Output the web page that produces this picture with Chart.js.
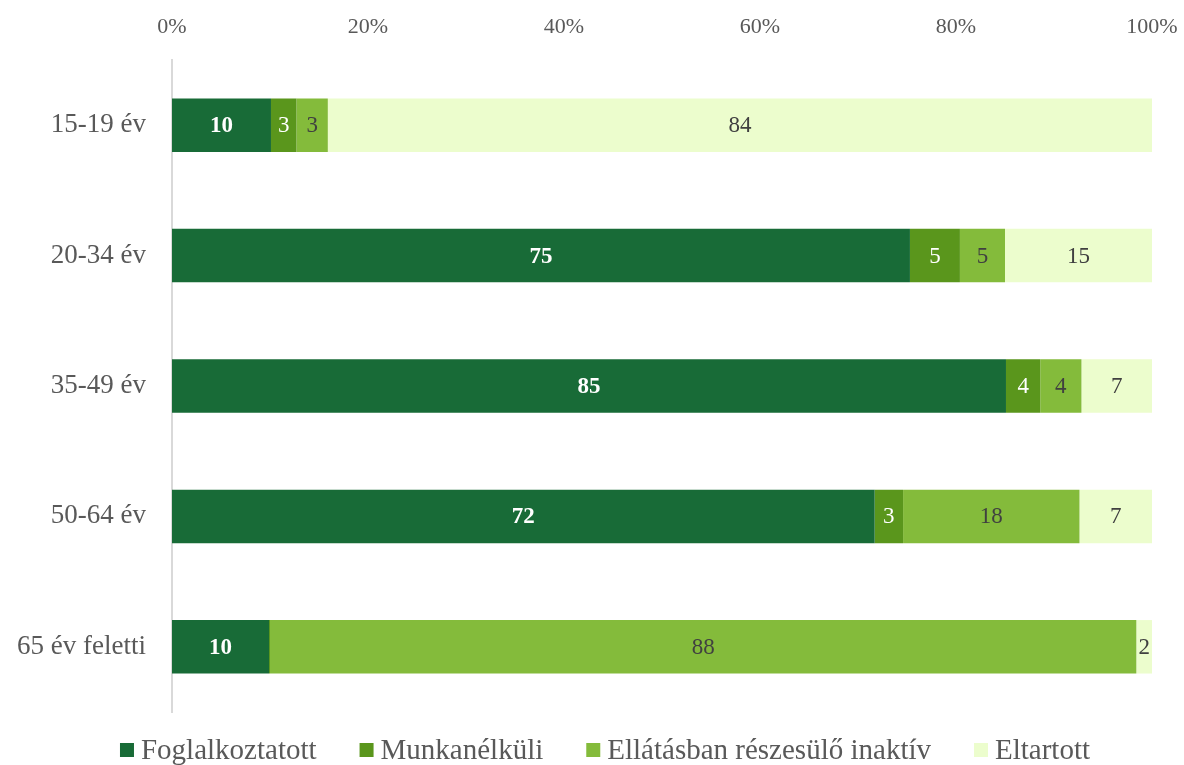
<!DOCTYPE html>
<html>
<head>
<meta charset="utf-8">
<script src="https://cdn.jsdelivr.net/npm/chart.js@4"></script>
<style>
  html, body { margin: 0; padding: 0; background: #fff; }
  #wrap { width: 1184px; height: 765px; }
</style>
</head>
<body>
<div id="wrap"><canvas id="chart" width="1184" height="765"></canvas></div>
<script>
// ── DATI ─────────────────────────────────────
const ageGroups = ['15-19 év', '20-34 év', '35-49 év', '50-64 év', '65 év feletti'];
const seriesNames = ['Foglalkoztatott', 'Munkanélküli', 'Ellátásban részesülő inaktív', 'Eltartott'];

const foglalkoztatott = [10.1, 75.3, 85.1, 71.7, 9.9];
const munkanelkuli    = [2.6, 5.1, 3.5, 2.9, 0.1];
const ellatott        = [3.2, 4.6, 4.2, 18.0, 88.4];
const eltartott       = [84.1, 15.0, 7.2, 7.4, 1.6];

const xTicks = [0, 20, 40, 60, 80, 100];

// ── STILE ────────────────────────────────────
const COLORS = ['#186b37', '#5a961c', '#84bb3b', '#ecfdcd'];
const LABEL_COLORS = ['#ffffff', '#ffffff', '#404040', '#404040'];
const LABEL_WEIGHTS = ['bold', 'normal', 'normal', 'normal'];
const FONT = "'Liberation Serif', 'DejaVu Serif', serif";
const TEXT = '#595959';

// etichette dentro i segmenti (niente plugin esterni)
const segmentLabels = {
  id: 'segmentLabels',
  afterDatasetsDraw(chart) {
    const ctx = chart.ctx;
    ctx.save();
    ctx.textAlign = 'center';
    ctx.textBaseline = 'middle';
    chart.data.datasets.forEach((ds, i) => {
      const meta = chart.getDatasetMeta(i);
      meta.data.forEach((bar, j) => {
        const v = ds.data[j];
        if (v < 0.5) return;
        const p = bar.getCenterPoint();
        ctx.font = LABEL_WEIGHTS[i] + ' 23px ' + FONT;
        ctx.fillStyle = LABEL_COLORS[i];
        ctx.fillText(Math.round(v), p.x, p.y + 1);
      });
    });
    ctx.restore();
  }
};

// legenda disegnata a mano, per controllare gli spazi
const bottomLegend = {
  id: 'bottomLegend',
  afterDraw(chart) {
    const ctx = chart.ctx;
    const box = 14, gap = 7, space = 43, y = 750;
    ctx.save();
    ctx.font = '29px ' + FONT;
    ctx.textBaseline = 'middle';
    ctx.textAlign = 'left';
    const widths = seriesNames.map(n => ctx.measureText(n).width);
    const total = widths.reduce((a, w) => a + box + gap + w, 0) + space * (seriesNames.length - 1);
    let x = 605 - total / 2;
    seriesNames.forEach((n, i) => {
      ctx.fillStyle = COLORS[i];
      ctx.fillRect(x, y - box / 2, box, box);
      ctx.fillStyle = TEXT;
      ctx.fillText(n, x + box + gap, y + 1);
      x += box + gap + widths[i] + space;
    });
    ctx.restore();
  }
};

const allSeries = [foglalkoztatott, munkanelkuli, ellatott, eltartott];

new Chart(document.getElementById('chart'), {
  type: 'bar',
  data: {
    labels: ageGroups,
    datasets: allSeries.map((vals, i) => ({
      label: seriesNames[i],
      data: vals,
      backgroundColor: COLORS[i],
      borderWidth: 0,
      barPercentage: 0.41,
      categoryPercentage: 1.0
    }))
  },
  options: {
    indexAxis: 'y',
    responsive: false,
    animation: false,
    layout: { padding: { top: 10, right: 32, bottom: 53, left: 0 } },
    plugins: {
      legend: { display: false },
      tooltip: { enabled: false }
    },
    scales: {
      x: {
        position: 'top',
        stacked: true,
        min: 0,
        max: 100,
        afterBuildTicks: s => { s.ticks = xTicks.map(v => ({ value: v })); },
        afterFit: s => { s.height = 50; s.paddingLeft = 0; s.paddingRight = 0; },
        ticks: {
          color: TEXT,
          font: { family: FONT, size: 22 },
          padding: 20,
          callback: v => v + '%'
        },
        grid: { display: false, drawTicks: false },
        border: { display: false }
      },
      y: {
        stacked: true,
        afterFit: s => { s.width = 172; },
        ticks: {
          color: TEXT,
          font: { family: FONT, size: 27 },
          padding: 26
        },
        grid: { display: false, drawTicks: false },
        border: { display: true, color: '#d9d9d9', width: 2 }
      }
    }
  },
  plugins: [segmentLabels, bottomLegend]
});
</script>
</body>
</html>
